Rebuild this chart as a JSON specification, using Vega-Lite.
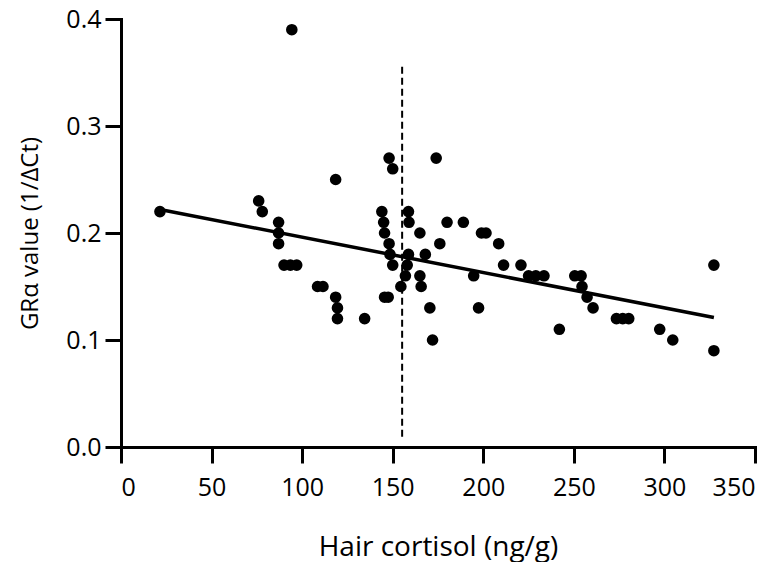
{
  "$schema": "https://vega.github.io/schema/vega-lite/v6.json",
  "autosize": "none",
  "width": 634,
  "height": 428,
  "padding": {"left": 121, "top": 19, "right": 25, "bottom": 115},
  "background": "white",
  "config": {
    "view": {"stroke": null},
    "axis": {
      "grid": false,
      "domainColor": "black",
      "domainWidth": 3,
      "domainCap": "square",
      "tickColor": "black",
      "tickWidth": 3,
      "tickSize": 16,
      "labelColor": "black",
      "labelFont": "Open Sans",
      "labelFontSize": 25,
      "titleColor": "black",
      "titleFont": "Open Sans",
      "titleFontSize": 25,
      "titleFontWeight": "normal"
    }
  },
  "datasets": {
    "pts": [
      {"cortisol": 21.5, "gr": 0.22},
      {"cortisol": 76, "gr": 0.23},
      {"cortisol": 78, "gr": 0.22},
      {"cortisol": 87, "gr": 0.21},
      {"cortisol": 87, "gr": 0.20},
      {"cortisol": 87, "gr": 0.19},
      {"cortisol": 90, "gr": 0.17},
      {"cortisol": 93.5, "gr": 0.17},
      {"cortisol": 97, "gr": 0.17},
      {"cortisol": 94.3, "gr": 0.39},
      {"cortisol": 108.5, "gr": 0.15},
      {"cortisol": 111.5, "gr": 0.15},
      {"cortisol": 118.5, "gr": 0.25},
      {"cortisol": 118.5, "gr": 0.14},
      {"cortisol": 119.5, "gr": 0.13},
      {"cortisol": 119.5, "gr": 0.12},
      {"cortisol": 134.5, "gr": 0.12},
      {"cortisol": 144, "gr": 0.22},
      {"cortisol": 145, "gr": 0.21},
      {"cortisol": 145.5, "gr": 0.20},
      {"cortisol": 148, "gr": 0.19},
      {"cortisol": 148.5, "gr": 0.18},
      {"cortisol": 150, "gr": 0.17},
      {"cortisol": 145.5, "gr": 0.14},
      {"cortisol": 147.5, "gr": 0.14},
      {"cortisol": 148, "gr": 0.27},
      {"cortisol": 150, "gr": 0.26},
      {"cortisol": 154.5, "gr": 0.15},
      {"cortisol": 157, "gr": 0.16},
      {"cortisol": 158, "gr": 0.17},
      {"cortisol": 158.7, "gr": 0.18},
      {"cortisol": 158.7, "gr": 0.22},
      {"cortisol": 159, "gr": 0.21},
      {"cortisol": 165, "gr": 0.20},
      {"cortisol": 165, "gr": 0.16},
      {"cortisol": 165.7, "gr": 0.15},
      {"cortisol": 168, "gr": 0.18},
      {"cortisol": 170.5, "gr": 0.13},
      {"cortisol": 172, "gr": 0.10},
      {"cortisol": 174, "gr": 0.27},
      {"cortisol": 176, "gr": 0.19},
      {"cortisol": 180, "gr": 0.21},
      {"cortisol": 189, "gr": 0.21},
      {"cortisol": 194.7, "gr": 0.16},
      {"cortisol": 197.4, "gr": 0.13},
      {"cortisol": 199, "gr": 0.20},
      {"cortisol": 201.5, "gr": 0.20},
      {"cortisol": 208.5, "gr": 0.19},
      {"cortisol": 211.2, "gr": 0.17},
      {"cortisol": 220.8, "gr": 0.17},
      {"cortisol": 225, "gr": 0.16},
      {"cortisol": 229, "gr": 0.16},
      {"cortisol": 233.5, "gr": 0.16},
      {"cortisol": 242, "gr": 0.11},
      {"cortisol": 250.5, "gr": 0.16},
      {"cortisol": 254, "gr": 0.16},
      {"cortisol": 254.5, "gr": 0.15},
      {"cortisol": 257.3, "gr": 0.14},
      {"cortisol": 260.6, "gr": 0.13},
      {"cortisol": 273.5, "gr": 0.12},
      {"cortisol": 277, "gr": 0.12},
      {"cortisol": 280.3, "gr": 0.12},
      {"cortisol": 297.4, "gr": 0.11},
      {"cortisol": 304.6, "gr": 0.10},
      {"cortisol": 327.3, "gr": 0.17},
      {"cortisol": 327.3, "gr": 0.09}
    ],
    "fit": [
      {"cortisol": 21.5, "gr": 0.222},
      {"cortisol": 327.3, "gr": 0.121}
    ],
    "cutoff": [
      {"cortisol": 155.2, "y1": 0.0095, "y2": 0.356}
    ]
  },
  "layer": [
    {
      "data": {"name": "cutoff"},
      "mark": {"type": "rule", "color": "black", "strokeWidth": 2, "strokeDash": [7, 4]},
      "encoding": {
        "x": {"field": "cortisol", "type": "quantitative", "scale": {"domain": [0, 350], "nice": false}},
        "y": {"field": "y1", "type": "quantitative", "scale": {"domain": [0, 0.4], "nice": false}},
        "y2": {"field": "y2"}
      }
    },
    {
      "data": {"name": "fit"},
      "mark": {"type": "line", "color": "black", "strokeWidth": 3.5},
      "encoding": {
        "x": {"field": "cortisol", "type": "quantitative"},
        "y": {"field": "gr", "type": "quantitative"}
      }
    },
    {
      "data": {"name": "pts"},
      "mark": {"type": "circle", "color": "black", "opacity": 1, "size": 135},
      "encoding": {
        "x": {
          "field": "cortisol", "type": "quantitative",
          "scale": {"domain": [0, 350], "nice": false},
          "axis": {"values": [0, 50, 100, 150, 200, 250, 300, 350], "title": "Hair cortisol (ng/g)", "titleFontSize": 28, "labelPadding": 12, "titleY": 108, "titleBaseline": "alphabetic"}
        },
        "y": {
          "field": "gr", "type": "quantitative",
          "scale": {"domain": [0, 0.4], "nice": false},
          "axis": {"values": [0, 0.1, 0.2, 0.3, 0.4], "format": ".1f", "title": "GRα value (1/ΔCt)", "titleFontSize": 24, "labelPadding": 4, "titleX": -91, "titleY": 214, "titleBaseline": "middle"}
        }
      }
    }
  ]
}
